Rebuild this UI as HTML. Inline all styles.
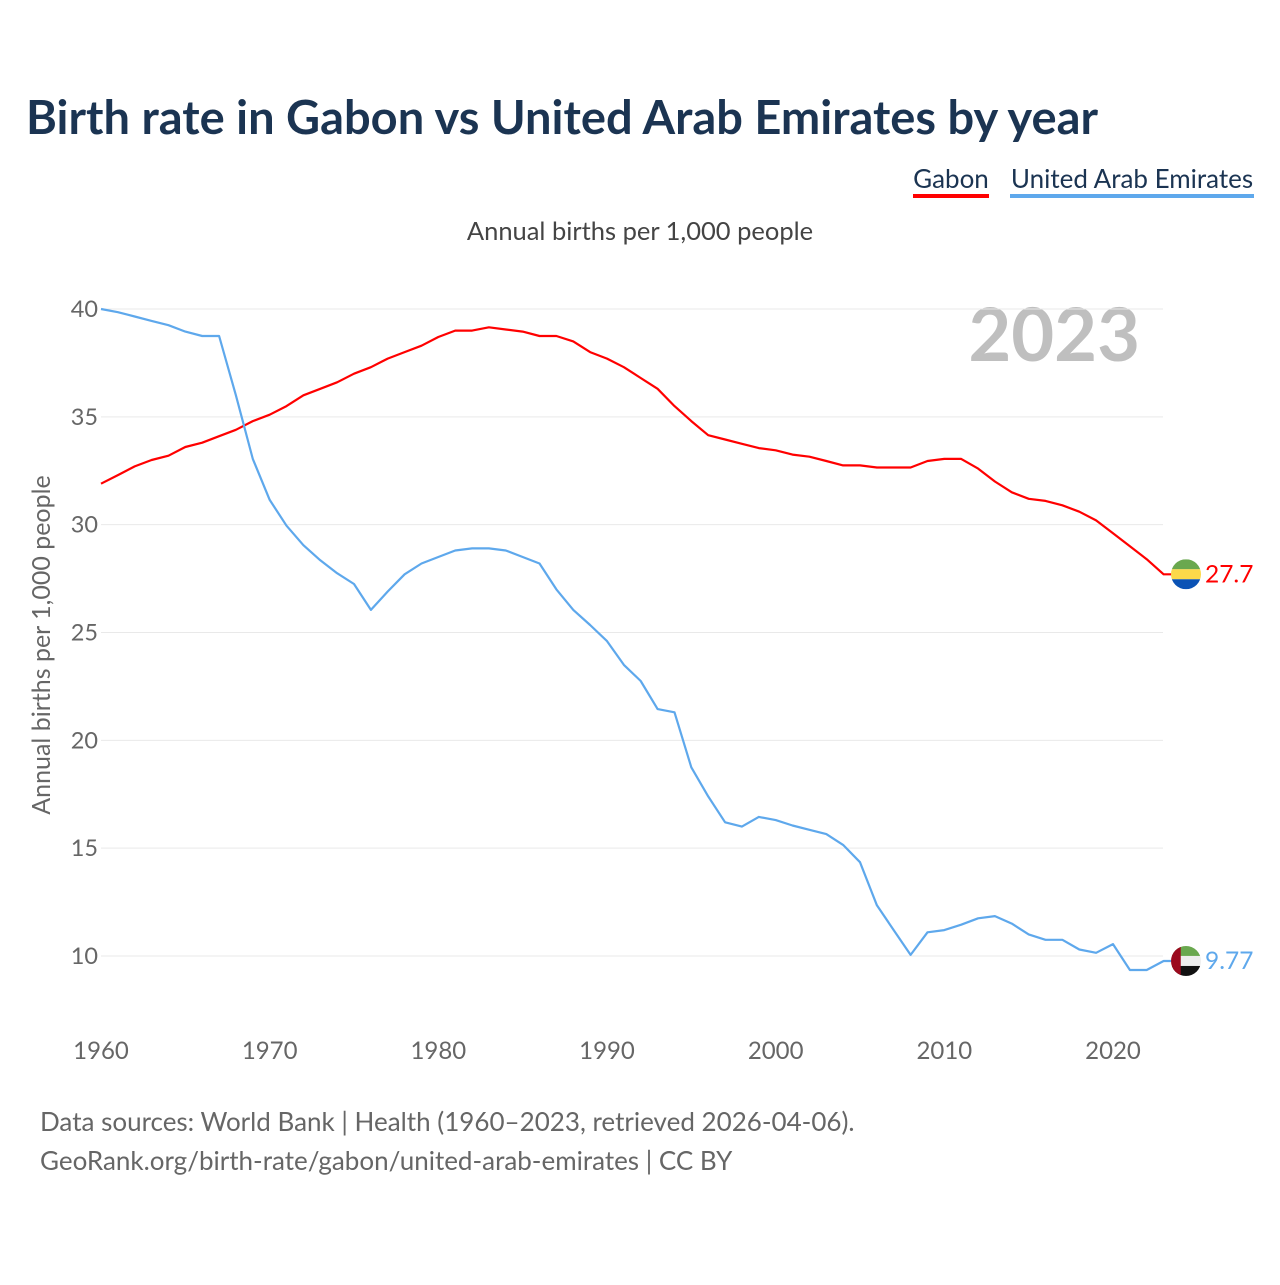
<!DOCTYPE html>
<html><head><meta charset="utf-8">
<style>
body{margin:0;background:#fff;font-family:"Liberation Sans",sans-serif;}
svg text{font-family:"Lato","Liberation Sans",sans-serif;}
</style></head>
<body>
<svg width="1280" height="1280" viewBox="0 0 1280 1280" xmlns="http://www.w3.org/2000/svg">
<text x="26" y="134" font-size="47" font-weight="bold" fill="#1b3452" textLength="1072">Birth rate in Gabon vs United Arab Emirates by year</text>
<g>
<text x="951" y="188" font-size="26" fill="#1b3452" text-anchor="middle">Gabon</text>
<rect x="913" y="194" width="76" height="4" fill="#ff0000"/>
</g>
<g>
<text x="1132" y="188" font-size="26" fill="#1b3452" text-anchor="middle">United Arab Emirates</text>
<rect x="1010" y="194" width="244" height="4" fill="#5ea8ec"/>
</g>
<text x="640" y="240" font-size="25.5" fill="#444" text-anchor="middle">Annual births per 1,000 people</text>
<text x="1140" y="361" font-size="74" font-weight="bold" fill="#bfbfbf" text-anchor="end">2023</text>
<text transform="translate(50,645) rotate(-90)" font-size="25" fill="#666" text-anchor="middle">Annual births per 1,000 people</text>
<g id="grid"></g>
<g id="marks"></g>
<text x="40" y="1131" font-size="26" fill="#666">Data sources: World Bank | Health (1960–2023, retrieved 2026-04-06).</text>
<text x="40" y="1170" font-size="26" fill="#666">GeoRank.org/birth-rate/gabon/united-arab-emirates | CC BY</text>
</svg>
<script>
const years=[];for(let y=1960;y<=2023;y++)years.push(y);
const gabon=[31.9,32.3,32.7,33.0,33.2,33.6,33.8,34.1,34.4,34.8,35.1,35.5,36.0,36.3,36.6,37.0,37.3,37.7,38.0,38.3,38.7,39.0,39.0,39.15,39.05,38.95,38.75,38.75,38.5,38.0,37.7,37.3,36.8,36.3,35.5,34.8,34.15,33.95,33.75,33.55,33.45,33.25,33.15,32.95,32.75,32.75,32.65,32.65,32.65,32.95,33.05,33.05,32.6,32.0,31.5,31.2,31.1,30.9,30.6,30.2,29.6,29.0,28.4,27.7];
const uae=[40.0,39.85,39.65,39.45,39.25,38.95,38.75,38.75,36.0,33.05,31.15,29.95,29.05,28.35,27.75,27.25,26.05,26.9,27.7,28.2,28.5,28.8,28.9,28.9,28.8,28.5,28.2,27.0,26.05,25.35,24.6,23.5,22.75,21.45,21.3,18.75,17.4,16.2,16.0,16.45,16.3,16.05,15.85,15.65,15.15,14.35,12.35,11.2,10.05,11.1,11.2,11.45,11.75,11.85,11.5,11.0,10.75,10.75,10.3,10.15,10.55,9.35,9.35,9.77];
const yTicks=[10,15,20,25,30,35,40];
const xTicks=[1960,1970,1980,1990,2000,2010,2020];
const lastLabels=["27.7","9.77"];
const NS="http://www.w3.org/2000/svg";
const X=y=>101+(y-1960)*(1113-101)/60;
const Y=v=>309+(40-v)*(956-309)/30;
function mk(t,a){const e=document.createElementNS(NS,t);for(const k in a)e.setAttribute(k,a[k]);return e;}
const grid=document.getElementById('grid'),marks=document.getElementById('marks');
yTicks.forEach(v=>{
 const l=mk('line',{x1:101,x2:1163,y1:Y(v),y2:Y(v),stroke:'#e9e9e9','stroke-width':1});
 
 
 grid.appendChild(l);
 const t=mk('text',{x:98,y:Y(v)+8,'font-size':23.5,fill:'#666','text-anchor':'end'});t.textContent=v;
 
 
 grid.appendChild(t);
});
xTicks.forEach(v=>{
 const t=mk('text',{x:X(v),y:1059,'font-size':24,fill:'#666','text-anchor':'middle'});t.textContent=v;
 
 
 grid.appendChild(t);
});
function series(vals,color,name,label,flag){
 let d=vals.map((v,i)=>(i?'L':'M')+X(years[i]).toFixed(1)+','+Y(v).toFixed(1)).join('');
 const last=vals[vals.length-1];
 d+='L1172,'+Y(last).toFixed(1);
 const p=mk('path',{d:d,fill:'none',stroke:color,'stroke-width':2.2,'stroke-linejoin':'round'});
 
 
 marks.appendChild(p);
 const g=mk('g',{});
 
 
 const cy=Y(last),cx=1186,r=15;
 g.innerHTML=flag(cx,cy,r);
 marks.appendChild(g);
 const t=mk('text',{x:1205,y:cy+8,'font-size':24.5,fill:color});t.textContent=label;
 
 
 marks.appendChild(t);
}
series(gabon,'#ff0000','gabon',lastLabels[0],(cx,cy,r)=>`<clipPath id="cg"><circle cx="${cx}" cy="${cy}" r="${r}"/></clipPath><g clip-path="url(#cg)"><rect x="${cx-r}" y="${cy-r}" width="${2*r}" height="${r*2/3}" fill="#6aa84f"/><rect x="${cx-r}" y="${cy-r/3}" width="${2*r}" height="${r*2/3}" fill="#fcd94a"/><rect x="${cx-r}" y="${cy+r/3}" width="${2*r}" height="${r*2/3}" fill="#0a52b5"/></g>`);
series(uae,'#5ea8ec','uae',lastLabels[1],(cx,cy,r)=>`<clipPath id="cu"><circle cx="${cx}" cy="${cy}" r="${r}"/></clipPath><g clip-path="url(#cu)"><rect x="${cx-r}" y="${cy-r}" width="${2*r}" height="${r*2/3}" fill="#6aa84f"/><rect x="${cx-r}" y="${cy-r/3}" width="${2*r}" height="${r*2/3}" fill="#eeeeee"/><rect x="${cx-r}" y="${cy+r/3}" width="${2*r}" height="${r*2/3}" fill="#111"/><rect x="${cx-r}" y="${cy-r}" width="${r*0.65}" height="${2*r}" fill="#9b0a1e"/></g>`);
</script>
</body></html>
